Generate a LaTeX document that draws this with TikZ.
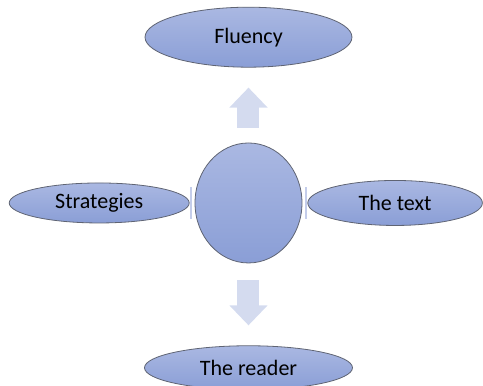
\documentclass[tikz,border=0pt]{standalone}
\usepackage{fontspec}
\setmainfont{Carlito}
\usetikzlibrary{positioning, shapes.geometric, arrows.meta}

\definecolor{ovaltop}{RGB}{170,184,226}
\definecolor{ovalbottom}{RGB}{138,158,214}
\definecolor{ovalline}{RGB}{95,100,115}
\definecolor{arrowfill}{RGB}{212,219,239}
\definecolor{barfill}{RGB}{196,205,234}

\begin{document}
\begin{tikzpicture}[
    oval/.style={draw=ovalline, line width=0.6pt, ellipse, inner sep=0pt,
        top color=ovaltop, bottom color=ovalbottom,
        font=\fontsize{16.5}{20}\selectfont},
    fatarrow/.style={draw=arrowfill, line width=16.5pt,
        -{Triangle[length=15pt, width=27.75pt]}},
    sidebar/.style={fill=barfill, inner sep=0pt, minimum width=1.5pt, minimum height=24pt}
]

\useasboundingbox (-186.4pt,-137.25pt) rectangle (175.9pt,152.25pt);

% Nodes
\node[oval, minimum width=80.25pt, minimum height=90pt] (hub) at (0,0) {};
\node[oval, minimum width=155.25pt, minimum height=45pt, above=56.25pt of hub] (fluency) {Fluency};
\node[oval, minimum width=135pt, minimum height=30pt, left=3.75pt of hub] (strategies) {Strategies};
\node[oval, minimum width=131pt, minimum height=33.75pt, right=3.75pt of hub] (text) {The text};
\node[oval, minimum width=156pt, minimum height=33pt, below=61.5pt of hub] (reader) {The reader};

% Side bars
\node[sidebar, left=1.5pt of hub] (barleft) {};
\node[sidebar, right=1.5pt of hub] (barright) {};

% Arrows
\draw[fatarrow, shorten <=11.25pt, shorten >=15pt] (hub) -- (fluency);
\draw[fatarrow, shorten <=12.75pt, shorten >=15pt] (hub) -- (reader);

\end{tikzpicture}
\end{document}
